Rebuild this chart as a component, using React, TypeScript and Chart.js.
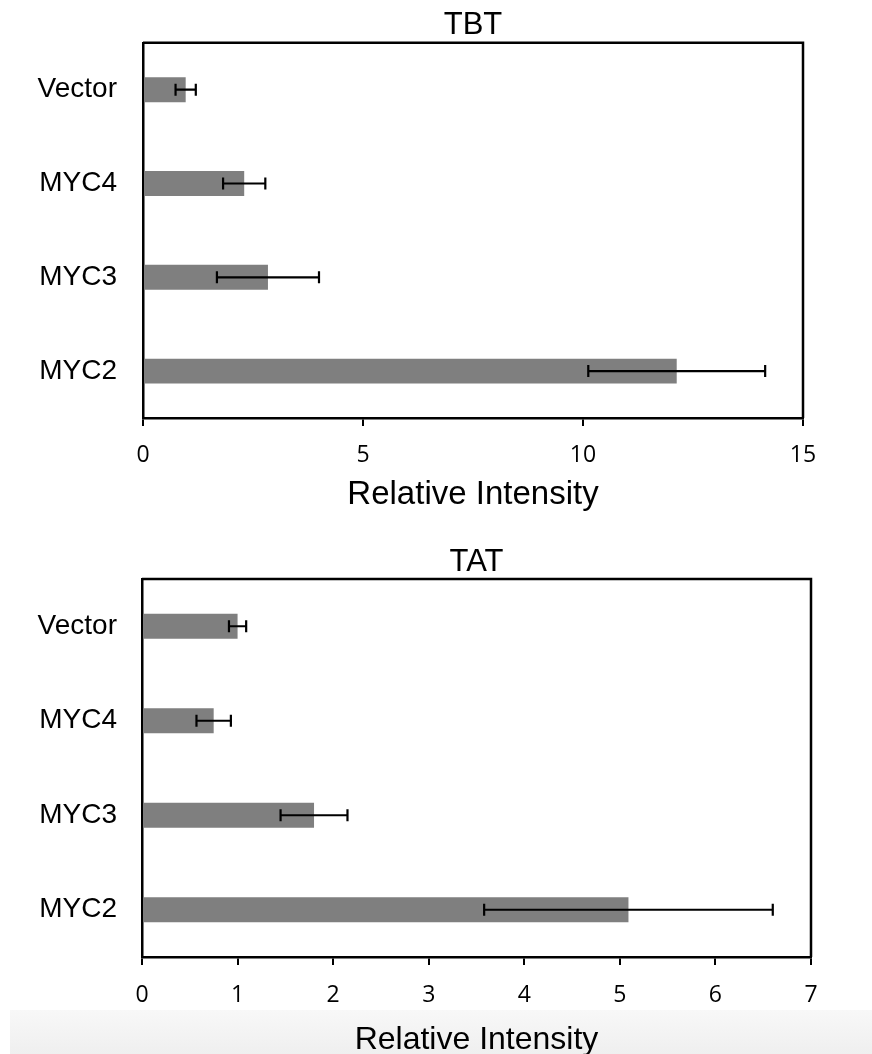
import React, { useEffect, useRef } from 'react';
import { Chart, registerables } from 'chart.js';

Chart.register(...registerables);

const categories = ['Vector', 'MYC4', 'MYC3', 'MYC2'];
const tbtValues = [0.97, 2.3, 2.84, 12.13];
const tbtErrors = [0.23, 0.48, 1.16, 2.01];
const tatValues = [1.0, 0.75, 1.8, 5.09];
const tatErrors = [0.09, 0.18, 0.35, 1.51];
const tbtTicks = [0, 5, 10, 15];
const tatTicks = [0, 1, 2, 3, 4, 5, 6, 7];
const axisTitle = 'Relative Intensity';

const SANS = '"Liberation Sans", Arial, sans-serif';
const TICKFONT = '"Open Sans", sans-serif';

const errorBarPlugin = {
  id: 'errorBars',
  afterDatasetsDraw(chart: any, _args: any, opts: any) {
    const errs: number[] = opts.errors || [];
    const vals = chart.data.datasets[0].data as number[];
    const meta = chart.getDatasetMeta(0);
    const xs = chart.scales.x;
    const ctx = chart.ctx;
    ctx.save();
    ctx.strokeStyle = '#000';
    ctx.lineWidth = 2.2;
    meta.data.forEach((bar: any, i: number) => {
      const y = bar.y;
      const lo = xs.getPixelForValue(vals[i] - errs[i]);
      const hi = xs.getPixelForValue(vals[i] + errs[i]);
      ctx.beginPath();
      ctx.moveTo(lo, y);
      ctx.lineTo(hi, y);
      ctx.moveTo(lo, y - 6);
      ctx.lineTo(lo, y + 6);
      ctx.moveTo(hi, y - 6);
      ctx.lineTo(hi, y + 6);
      ctx.stroke();
    });
    ctx.restore();
  },
};

const framePlugin = {
  id: 'frameLines',
  afterDraw(chart: any) {
    const { ctx, chartArea } = chart;
    ctx.save();
    ctx.strokeStyle = '#000';
    ctx.lineWidth = 2.5;
    ctx.beginPath();
    ctx.moveTo(chartArea.left, chartArea.top);
    ctx.lineTo(chartArea.right, chartArea.top);
    ctx.lineTo(chartArea.right, chartArea.bottom);
    ctx.stroke();
    ctx.restore();
  },
};

type Dims = {
  padRight: number;
  yWidth: number;
  xHeight: number;
  titlePadTop: number;
  titlePadBottom: number;
  axisTitleSize: number;
  axisTitleLineHeight: number;
  axisTitlePadBottom: number;
  yLabelPad: number;
  xLabelPad: number;
};

function makeConfig(title: string, values: number[], errors: number[], ticks: number[], d: Dims): any {
  return {
    type: 'bar',
    data: {
      labels: categories,
      datasets: [
        {
          data: values,
          backgroundColor: '#7f7f7f',
          borderWidth: 0,
          barPercentage: 0.265,
          categoryPercentage: 1,
        },
      ],
    },
    options: {
      indexAxis: 'y',
      responsive: false,
      animation: false,
      layout: { padding: { left: 0, right: d.padRight, top: 0, bottom: 0 } },
      plugins: {
        legend: { display: false },
        tooltip: { enabled: false },
        title: {
          display: true,
          text: title,
          fullSize: false,
          color: '#000',
          font: { family: SANS, size: 31, weight: 'normal', lineHeight: 1 },
          padding: { top: d.titlePadTop, bottom: d.titlePadBottom },
        },
        errorBars: { errors },
      },
      scales: {
        x: {
          min: ticks[0],
          max: ticks[ticks.length - 1],
          afterBuildTicks: (scale: any) => {
            scale.ticks = ticks.map((v) => ({ value: v }));
          },
          afterFit: (scale: any) => {
            scale.height = d.xHeight;
          },
          grid: {
            display: true,
            drawOnChartArea: false,
            drawTicks: true,
            tickLength: 8,
            color: '#000',
            lineWidth: 2,
          },
          border: { display: true, color: '#000', width: 2.5 },
          ticks: {
            color: '#000',
            padding: d.xLabelPad,
            maxRotation: 0,
            font: { family: TICKFONT, size: 23 },
          },
          title: {
            display: true,
            text: axisTitle,
            color: '#000',
            font: { family: SANS, size: d.axisTitleSize, lineHeight: d.axisTitleLineHeight },
            padding: { top: 0, bottom: d.axisTitlePadBottom },
          },
        },
        y: {
          afterFit: (scale: any) => {
            scale.width = d.yWidth;
          },
          grid: { display: false, drawTicks: false },
          border: { display: true, color: '#000', width: 2.5 },
          ticks: {
            color: '#000',
            padding: d.yLabelPad,
            font: { family: SANS, size: 28 },
          },
        },
      },
    },
    plugins: [errorBarPlugin, framePlugin],
  };
}

function BarChart(props: { config: any; top: number; height: number }) {
  const ref = useRef<HTMLCanvasElement | null>(null);
  useEffect(() => {
    if (!ref.current) return;
    const chart = new Chart(ref.current, props.config);
    return () => chart.destroy();
  }, []);
  return (
    <canvas
      ref={ref}
      width={872}
      height={props.height}
      style={{ position: 'absolute', left: 0, top: props.top, width: 872, height: props.height }}
    />
  );
}

export default function App() {
  const topCfg = makeConfig('TBT', tbtValues, tbtErrors, tbtTicks, {
    padRight: 69,
    yWidth: 143,
    xHeight: 109,
    titlePadTop: 7.5,
    titlePadBottom: 1.5,
    axisTitleSize: 33,
    axisTitleLineHeight: 1,
    axisTitlePadBottom: 15.5,
    yLabelPad: 26,
    xLabelPad: 16,
  });
  const botCfg = makeConfig('TAT', tatValues, tatErrors, tatTicks, {
    padRight: 61,
    yWidth: 142,
    xHeight: 97,
    titlePadTop: 20,
    titlePadBottom: 1,
    axisTitleSize: 32,
    axisTitleLineHeight: 0.88,
    axisTitlePadBottom: 0,
    yLabelPad: 25,
    xLabelPad: 17,
  });
  return (
    <div
      style={{
        position: 'fixed',
        left: 0,
        top: 0,
        width: 872,
        height: 1054,
        background: '#ffffff',
        overflow: 'hidden',
      }}
    >
      <div
        style={{
          position: 'absolute',
          left: 10,
          top: 1010,
          width: 862,
          height: 44,
          background: 'linear-gradient(#f8f8f8, #efefef)',
        }}
      />
      <BarChart config={topCfg} top={0} height={527} />
      <BarChart config={botCfg} top={527} height={527} />
    </div>
  );
}
